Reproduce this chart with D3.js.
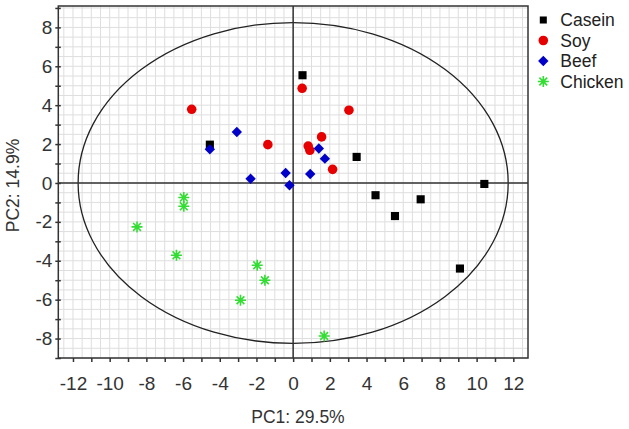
<!DOCTYPE html>
<html><head><meta charset="utf-8">
<script src="https://cdn.jsdelivr.net/npm/d3@7"></script>
<style>
html,body{margin:0;padding:0;background:#fff;}
text{font-family:"Liberation Sans",Arial,sans-serif;}
</style></head>
<body><svg id="c" width="629" height="429"></svg>
<script>
const seriesNames = ["Casein","Soy","Beef","Chicken"];
const caseinX = [0.51,-4.54,3.46,10.42,4.49,5.55,6.95,9.09];
const caseinY = [5.54,1.97,1.34,-0.05,-0.63,-1.70,-0.84,-4.40];
const soyX = [-5.53,-1.38,0.49,3.04,1.55,0.82,0.91,2.15];
const soyY = [3.79,1.97,4.87,3.74,2.37,1.90,1.68,0.70];
const beefX = [-4.54,-3.07,-2.32,-0.41,-0.20,1.40,1.73,0.93];
const beefY = [1.73,2.62,0.22,0.51,-0.12,1.77,1.25,0.46];
const chickenX = [-5.96,-5.96,-8.51,-6.36,-1.96,-1.54,-2.87,1.69];
const chickenY = [-0.75,-1.20,-2.26,-3.72,-4.23,-5.00,-6.03,-7.87];
const xTickLabels = [-12,-10,-8,-6,-4,-2,0,2,4,6,8,10,12];
const yTickLabels = [-8,-6,-4,-2,0,2,4,6,8];
const ellipseRadii = [11.72, 8.25];
const xLabel = "PC1: 29.5%";
const yLabel = "PC2: 14.9%";

const colors = {Casein:"#000000", Soy:"#e60000", Beef:"#0000c8", Chicken:"#33dd33"};
const L=58.3, R=528, T=6, B=358;
const x = d3.scaleLinear().domain([-12.8,12.8]).range([L,R]);
const y = d3.scaleLinear().domain([-9,9.1]).range([B,T]);
const svg = d3.select("#c");

// grid
const g = svg.append("g");
g.selectAll("line.vg").data(d3.range(-12.5,12.51,0.5)).enter().append("line")
 .attr("x1",d=>x(d)).attr("x2",d=>x(d)).attr("y1",T).attr("y2",B)
 .attr("stroke","#dedede").attr("stroke-width",1);
g.selectAll("line.hg").data(d3.range(-9,9.01,0.5)).enter().append("line")
 .attr("y1",d=>y(d)).attr("y2",d=>y(d)).attr("x1",L).attr("x2",R)
 .attr("stroke","#dedede").attr("stroke-width",1);

// ellipse
svg.append("ellipse").attr("cx",x(0)).attr("cy",y(0))
 .attr("rx",x(ellipseRadii[0])-x(0)).attr("ry",y(0)-y(ellipseRadii[1]))
 .attr("fill","none").attr("stroke","#222").attr("stroke-width",1.3);

// zero lines
svg.append("line").attr("x1",x(0)).attr("x2",x(0)).attr("y1",T).attr("y2",B).attr("stroke","#333").attr("stroke-width",1.5);
svg.append("line").attr("y1",y(0)).attr("y2",y(0)).attr("x1",L).attr("x2",R).attr("stroke","#333").attr("stroke-width",1.5);

// frame
svg.append("rect").attr("x",L).attr("y",T).attr("width",R-L).attr("height",B-T)
 .attr("fill","none").attr("stroke","#333").attr("stroke-width",1.5);

// axes
const xa = d3.axisBottom(x).tickValues(d3.range(-12,13,1)).tickSize(4).tickPadding(14)
 .tickFormat(d=> xTickLabels.includes(d)? String(d):"");
const gx = svg.append("g").attr("transform",`translate(0,${B})`).call(xa);
gx.select(".domain").remove();
gx.selectAll(".tick line").attr("stroke","#333").attr("stroke-width",1.5);
gx.selectAll(".tick text").attr("font-size",19).attr("fill","#333").attr("font-family","Liberation Sans, Arial, sans-serif").attr("dy","0.75em").attr("y",18);

const ya = d3.axisLeft(y).tickValues(d3.range(-9,10,1)).tickSize(3).tickPadding(6)
 .tickFormat(d=> yTickLabels.includes(d)? String(d):"");
const gy = svg.append("g").attr("transform",`translate(${L},0)`).call(ya);
gy.select(".domain").remove();
gy.selectAll(".tick line").attr("x2",-3).attr("x1",2.5).attr("stroke","#333").attr("stroke-width",1.5);
gy.selectAll(".tick text").attr("font-size",19).attr("fill","#333").attr("font-family","Liberation Sans, Arial, sans-serif").attr("x",-6);

// axis labels
svg.append("text").attr("x",298).attr("y",423).attr("text-anchor","middle")
 .attr("font-size",17.5).attr("fill","#333").text(xLabel);
svg.append("text").attr("transform","translate(19,185.5) rotate(-90)").attr("text-anchor","middle")
 .attr("font-size",17.5).attr("fill","#333").text(yLabel);

// markers
function diamond(r){return `M0,${-r}L${r},0L0,${r}L${-r},0Z`;}
function asterisk(r){
  const a=r*Math.SQRT1_2;
  return `M${-r},0L${r},0M0,${-r}L0,${r}M${-a},${-a}L${a},${a}M${-a},${a}L${a},${-a}`;
}
function drawMarker(sel,name,scale){
  const c=colors[name];
  if(name==="Casein") sel.append("path").attr("d",d3.symbol(d3.symbolSquare,66*scale)()).attr("fill",c);
  else if(name==="Soy") sel.append("path").attr("d",d3.symbol(d3.symbolCircle,72*scale)()).attr("fill",c);
  else if(name==="Beef") sel.append("path").attr("d",diamond(5.2*Math.sqrt(scale))).attr("fill",c);
  else sel.append("path").attr("d",asterisk(5.5*Math.sqrt(scale))).attr("stroke",c).attr("stroke-width",1.6).attr("fill","none");
}
const series = [
  {name:"Casein", xs:caseinX, ys:caseinY},
  {name:"Soy", xs:soyX, ys:soyY},
  {name:"Beef", xs:beefX, ys:beefY},
  {name:"Chicken", xs:chickenX, ys:chickenY}
];
series.forEach(s=>{
  s.xs.forEach((vx,i)=>{
    const gg = svg.append("g").attr("transform",`translate(${x(vx)},${y(s.ys[i])})`);
    drawMarker(gg,s.name,1);
  });
});

// legend
seriesNames.forEach((n,i)=>{
  const gl = svg.append("g").attr("transform",`translate(543.3,${20+i*20.5})`);
  drawMarker(gl,n,i===0?0.75:1);
  gl.append("text").attr("x",17).attr("y",0).attr("dy","0.36em").attr("font-size",17.5).attr("fill","#222").text(n);
});
</script></body></html>
